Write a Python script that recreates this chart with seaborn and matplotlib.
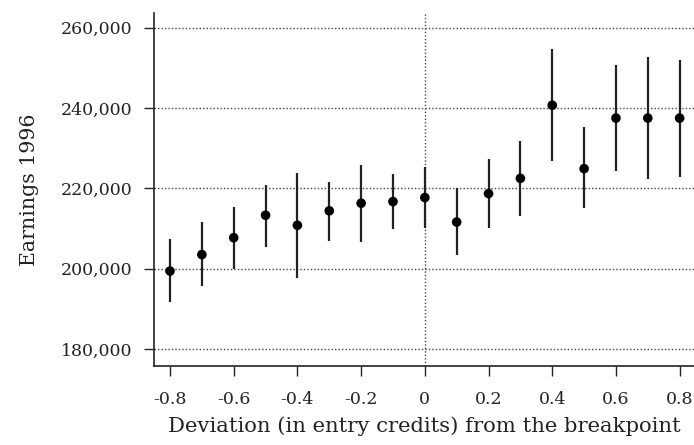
import numpy as np
import pandas as pd
import seaborn as sns
import matplotlib.pyplot as plt
from matplotlib.ticker import FuncFormatter

# deviation from the breakpoint, point estimate and interval ends
dev = [-0.8, -0.7, -0.6, -0.5, -0.4, -0.3, -0.2, -0.1, 0.0,
       0.1, 0.2, 0.3, 0.4, 0.5, 0.6, 0.7, 0.8]
earn = [199400, 203500, 207700, 213300, 210800, 214400, 216300, 216700, 217700,
        211600, 218700, 222500, 240700, 224900, 237500, 237500, 237500]
lo = [191600, 195600, 200000, 205500, 197700, 207000, 206600, 209800, 210000,
      203400, 210100, 213100, 226700, 215000, 224300, 222400, 222900]
hi = [207300, 211700, 215300, 220800, 223800, 221600, 225800, 223600, 225400,
      220000, 227200, 231900, 254600, 235200, 250700, 252600, 252000]

xticks = [-0.8, -0.6, -0.4, -0.2, 0, 0.2, 0.4, 0.6, 0.8]
xticklabels = ["-0.8", "-0.6", "-0.4", "-0.2", "0", "0.2", "0.4", "0.6", "0.8"]
yticks = [180000, 200000, 220000, 240000, 260000]

df = pd.DataFrame({"dev": dev, "earn": earn, "lo": lo, "hi": hi})

sns.set_style("ticks")
plt.rcParams['font.family'] = ['DejaVu Serif']

fig = plt.figure(figsize=(6.94, 4.45), dpi=100)
ax = fig.add_axes([0.222, 0.178, 0.778, 0.793])

# grid: dotted horizontal lines and a dotted line at the breakpoint
for yv in yticks:
    ax.axhline(yv, color="#444444", lw=1, ls=(0, (1, 1.5)), zorder=0)
ax.axvline(0, color="#444444", lw=1, ls=(0, (1, 1.5)), zorder=0)

ax.vlines(df["dev"], df["lo"], df["hi"], color="#222222", lw=1.6, zorder=2)
sns.scatterplot(data=df, x="dev", y="earn", ax=ax, color="black", s=48,
                edgecolor="none", zorder=3)

ax.set_xlim(-0.85, 0.845)
ax.set_ylim(175800, 263700)
ax.set_xticks(xticks)
ax.set_xticklabels(xticklabels)
ax.set_yticks(yticks)
ax.yaxis.set_major_formatter(FuncFormatter(lambda v, p: f"{int(v):,}"))
ax.tick_params(axis="both", labelsize=12.5, length=7.5, width=1.0,
               colors="#222222", pad=8)
ax.tick_params(axis="x", pad=11)

sns.despine(ax=ax)
for s in ["left", "bottom"]:
    ax.spines[s].set_linewidth(1.2)
    ax.spines[s].set_color("#222222")

ax.set_xlabel("Deviation (in entry credits) from the breakpoint", fontsize=15.2,
              color="#222222", labelpad=6)
ax.set_ylabel("Earnings 1996", fontsize=14.8, color="#222222", labelpad=16)

fig.savefig("out.png", dpi=100)
